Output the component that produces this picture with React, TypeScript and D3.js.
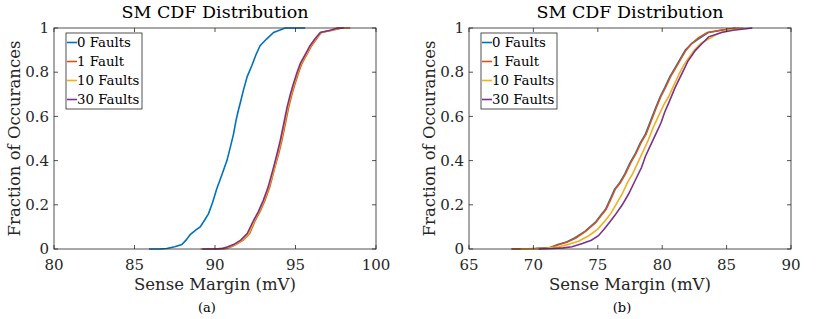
import React, { useRef, useEffect } from 'react';
import * as d3 from 'd3';

type Pt = [number, number];

// Panel (a) - sense margin (mV) vs cumulative fraction
const a0Faults: Pt[] = [[85.9,0],[86.5,0],[87.0,0.002],[87.5,0.01],[87.94,0.02],[88.2,0.04],[88.46,0.065],[88.8,0.085],[89.08,0.10],[89.35,0.13],[89.6,0.16],[89.85,0.21],[90.1,0.27],[90.4,0.33],[90.74,0.40],[90.95,0.46],[91.15,0.52],[91.3,0.58],[91.46,0.63],[91.6,0.67],[91.77,0.72],[92.0,0.78],[92.29,0.83],[92.55,0.88],[92.8,0.92],[93.2,0.95],[93.64,0.98],[94.0,0.99],[94.36,1.0],[95.6,1.0]];
const a1Fault: Pt[] = [[89.5,0],[90.2,0],[90.7,0.003],[91.0,0.01],[91.3,0.02],[91.75,0.04],[92.15,0.07],[92.5,0.13],[92.8,0.17],[93.1,0.22],[93.4,0.28],[93.72,0.37],[93.95,0.43],[94.15,0.49],[94.35,0.56],[94.57,0.64],[94.78,0.70],[94.98,0.75],[95.2,0.80],[95.4,0.84],[95.7,0.88],[96.0,0.92],[96.3,0.95],[96.6,0.98],[97.3,0.99],[97.9,1.0],[98.4,1.0]];
const a10Faults: Pt[] = [[89.1,0],[90.1,0],[90.6,0.003],[90.9,0.01],[91.25,0.02],[91.7,0.04],[92.1,0.07],[92.45,0.13],[92.75,0.17],[93.05,0.22],[93.35,0.28],[93.7,0.37],[93.9,0.43],[94.1,0.49],[94.3,0.56],[94.52,0.64],[94.73,0.70],[94.93,0.75],[95.15,0.80],[95.35,0.84],[95.65,0.88],[95.95,0.92],[96.25,0.95],[96.6,0.98],[97.2,0.99],[97.7,1.0],[98.0,1.0]];
const a30Faults: Pt[] = [[89.2,0],[90.0,0],[90.5,0.003],[90.8,0.01],[91.15,0.02],[91.6,0.04],[92.0,0.07],[92.4,0.13],[92.7,0.17],[93.0,0.22],[93.3,0.28],[93.64,0.37],[93.85,0.43],[94.05,0.49],[94.25,0.56],[94.47,0.64],[94.68,0.70],[94.88,0.75],[95.1,0.80],[95.3,0.84],[95.6,0.88],[95.9,0.92],[96.2,0.95],[96.54,0.98],[97.16,0.99],[97.6,1.0],[98.0,1.0]];

// Panel (b)
const b0Faults: Pt[] = [[68.3,0],[69.5,0.001],[70.1,0.002],[71.2,0.005],[71.9,0.02],[72.5,0.03],[73.2,0.05],[74.0,0.08],[74.8,0.12],[75.2,0.15],[75.6,0.18],[76.0,0.23],[76.3,0.27],[76.7,0.30],[77.1,0.34],[77.5,0.39],[77.9,0.43],[78.3,0.48],[78.7,0.52],[79.1,0.58],[79.5,0.64],[79.85,0.69],[80.2,0.73],[80.6,0.78],[81.0,0.82],[81.4,0.86],[81.8,0.90],[82.3,0.93],[82.8,0.95],[83.6,0.98],[84.6,0.99],[85.7,1.0]];
const b1Fault: Pt[] = [[68.3,0],[69.6,0.001],[70.2,0.002],[71.3,0.006],[72.0,0.02],[72.6,0.03],[73.3,0.05],[74.05,0.08],[74.85,0.12],[75.25,0.15],[75.65,0.18],[76.05,0.23],[76.35,0.27],[76.75,0.30],[77.15,0.34],[77.55,0.39],[77.95,0.43],[78.35,0.48],[78.75,0.52],[79.15,0.58],[79.55,0.64],[79.9,0.69],[80.25,0.73],[80.65,0.78],[81.05,0.82],[81.45,0.86],[81.85,0.90],[82.3,0.93],[82.8,0.955],[83.5,0.98],[84.5,0.99],[86.0,1.0]];
const b10Faults: Pt[] = [[69.0,0],[70.2,0.001],[71.0,0.003],[72.0,0.01],[72.7,0.02],[73.5,0.035],[74.3,0.06],[75.0,0.09],[75.6,0.13],[76.0,0.16],[76.4,0.20],[76.9,0.25],[77.3,0.30],[77.7,0.34],[78.1,0.39],[78.5,0.44],[78.9,0.49],[79.3,0.55],[79.7,0.60],[80.1,0.65],[80.5,0.69],[80.9,0.74],[81.3,0.79],[81.65,0.83],[82.0,0.86],[82.5,0.90],[83.0,0.93],[83.6,0.95],[84.2,0.97],[85.0,0.99],[86.3,1.0]];
const b30Faults: Pt[] = [[70.4,0],[71.5,0.002],[72.3,0.005],[73.0,0.01],[73.8,0.025],[74.5,0.04],[75.05,0.06],[75.5,0.09],[75.9,0.12],[76.3,0.15],[76.9,0.20],[77.4,0.25],[77.9,0.31],[78.4,0.37],[78.7,0.42],[79.1,0.47],[79.5,0.52],[79.9,0.57],[80.2,0.62],[80.5,0.66],[81.0,0.73],[81.5,0.79],[82.0,0.85],[82.6,0.90],[83.1,0.93],[83.6,0.96],[84.6,0.98],[85.5,0.99],[87.0,1.0]];

const seriesNames = ['0 Faults', '1 Fault', '10 Faults', '30 Faults'];
const seriesColors = ['#0072BD', '#D95319', '#EDB120', '#7E2F8E'];
const yTicks = [0, 0.2, 0.4, 0.6, 0.8, 1];
const xTicksA = [80, 85, 90, 95, 100];
const xTicksB = [65, 70, 75, 80, 85, 90];

const FONT = 'DejaVu Serif, serif';
const AXIS = '#262626';

interface PanelProps {
    offsetX: number;
    xDomain: [number, number];
    xTicks: number[];
    series: Pt[][];
    caption: string;
}

const Panel: React.FC<PanelProps> = ({ offsetX, xDomain, xTicks, series, caption }) => {
    const gRef = useRef<SVGGElement>(null);

    useEffect(() => {
        const left = offsetX + 54, right = offsetX + 376, top = 28, bottom = 249;
        const x = d3.scaleLinear().domain(xDomain).range([left, right]);
        const y = d3.scaleLinear().domain([0, 1]).range([bottom, top]);

        const g = d3.select(gRef.current);
        g.selectAll('*').remove();

        // cdf curves
        const line = d3.line<Pt>().x(d => x(d[0])).y(d => y(d[1]));
        series.forEach((s, i) => {
            g.append('path')
                .datum(s)
                .attr('fill', 'none')
                .attr('stroke', seriesColors[i])
                .attr('stroke-width', 1.6)
                .attr('d', line);
        });

        // box + inward ticks
        const tl = 4;
        g.append('rect')
            .attr('x', left).attr('y', top)
            .attr('width', right - left).attr('height', bottom - top)
            .attr('fill', 'none').attr('stroke', AXIS).attr('stroke-width', 0.8);

        xTicks.forEach(t => {
            g.append('line').attr('x1', x(t)).attr('x2', x(t)).attr('y1', bottom).attr('y2', bottom - tl)
                .attr('stroke', AXIS).attr('stroke-width', 0.8);
            g.append('line').attr('x1', x(t)).attr('x2', x(t)).attr('y1', top).attr('y2', top + tl)
                .attr('stroke', AXIS).attr('stroke-width', 0.8);
            g.append('text').attr('x', x(t)).attr('y', 270)
                .attr('text-anchor', 'middle').attr('font-size', 15).attr('font-family', FONT)
                .attr('fill', AXIS).text(t);
        });
        yTicks.forEach(t => {
            g.append('line').attr('x1', left).attr('x2', left + tl).attr('y1', y(t)).attr('y2', y(t))
                .attr('stroke', AXIS).attr('stroke-width', 0.8);
            g.append('line').attr('x1', right).attr('x2', right - tl).attr('y1', y(t)).attr('y2', y(t))
                .attr('stroke', AXIS).attr('stroke-width', 0.8);
            g.append('text').attr('x', left - 5).attr('y', y(t)).attr('dy', '0.35em')
                .attr('text-anchor', 'end').attr('font-size', 15).attr('font-family', FONT)
                .attr('fill', AXIS).text(String(t));
        });

        // labels
        g.append('text').attr('x', (left + right) / 2).attr('y', 18)
            .attr('text-anchor', 'middle').attr('font-size', 17.5).attr('font-family', FONT)
            .attr('fill', '#000').text('SM CDF Distribution');
        g.append('text').attr('x', (left + right) / 2).attr('y', 290)
            .attr('text-anchor', 'middle').attr('font-size', 16.5).attr('font-family', FONT)
            .attr('fill', AXIS).text('Sense Margin (mV)');
        g.append('text')
            .attr('transform', `translate(${offsetX + 20},${(top + bottom) / 2}) rotate(-90)`)
            .attr('text-anchor', 'middle').attr('font-size', 16.5).attr('font-family', FONT)
            .attr('fill', AXIS).text('Fraction of Occurances');
        g.append('text').attr('x', (left + right) / 2 - 8).attr('y', 312)
            .attr('text-anchor', 'middle').attr('font-size', 13).attr('font-family', FONT)
            .attr('fill', '#000').text(caption);

        // legend
        const lx = offsetX + 66, ly = 33, lw = 76, lh = 76;
        g.append('rect').attr('x', lx).attr('y', ly).attr('width', lw).attr('height', lh)
            .attr('fill', '#fff').attr('stroke', AXIS).attr('stroke-width', 0.8);
        seriesNames.forEach((name, i) => {
            const cy = ly + 9.5 + i * 19;
            g.append('line').attr('x1', lx + 1).attr('x2', lx + 11).attr('y1', cy).attr('y2', cy)
                .attr('stroke', seriesColors[i]).attr('stroke-width', 1.6);
            g.append('text').attr('x', lx + 11).attr('y', cy).attr('dy', '0.35em')
                .attr('font-size', 13.3).attr('font-family', FONT).attr('fill', '#000').text(name);
        });
    }, [offsetX, xDomain, xTicks, series, caption]);

    return <g ref={gRef} />;
};

const App: React.FC = () => {
    return (
        <svg width={830} height={319} style={{ position: 'absolute', left: 0, top: 0, background: '#fff' }}>
            <rect width={830} height={319} fill="#fff" />
            <Panel offsetX={0} xDomain={[80, 100]} xTicks={xTicksA}
                series={[a0Faults, a1Fault, a10Faults, a30Faults]} caption="(a)" />
            <Panel offsetX={415} xDomain={[65, 90]} xTicks={xTicksB}
                series={[b0Faults, b1Fault, b10Faults, b30Faults]} caption="(b)" />
        </svg>
    );
};

export default App;
